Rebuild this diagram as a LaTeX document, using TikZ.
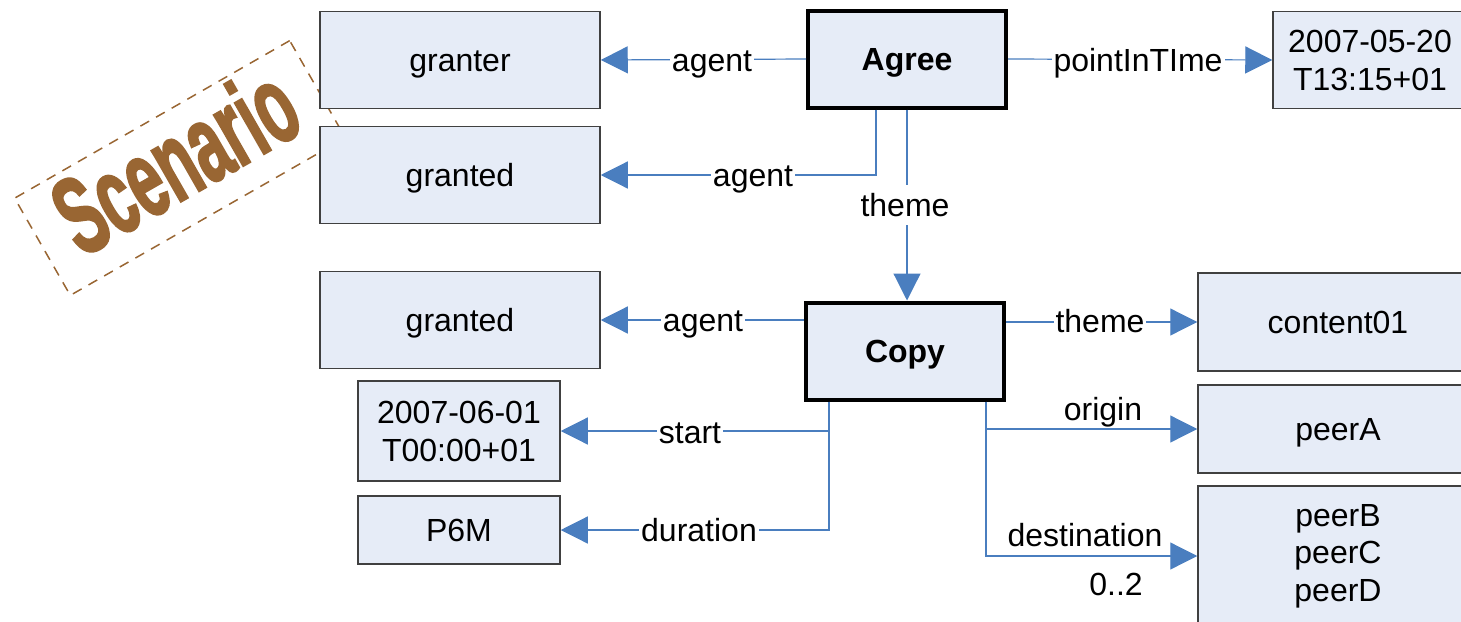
\documentclass[tikz,border=0pt]{standalone}
\usepackage{fontspec}
\setmainfont{Liberation Sans}
\newfontfamily\stampfont[FakeBold=2.5]{Liberation Sans Bold}
\usetikzlibrary{arrows.meta}
\definecolor{boxfill}{HTML}{E6ECF7}
\definecolor{linkblue}{HTML}{4A7EBF}
\definecolor{stampbrown}{HTML}{996633}
\tikzset{
  oneline/.style={text height=14.5pt, text depth=3.4pt},
  multibox/.style={draw=black!75, line width=0.75pt, fill=boxfill, minimum width=140pt,
    minimum height=48.5pt, align=center, font=\fontsize{16}{19}\selectfont, inner sep=0pt},
  box/.style={multibox, oneline},
  eventbox/.style={box, draw=black, line width=2pt, minimum width=99pt,
    font=\fontsize{16}{19}\selectfont\bfseries},
  link/.style={draw=linkblue, line width=0.6pt, -{Triangle[length=13.5pt,width=13.5pt]}},
  lbl/.style={fill=white, inner sep=1pt, oneline, font=\fontsize{16}{19}\selectfont},
}
\begin{document}
\begin{tikzpicture}[x=0.5pt, y=-0.5pt]
  \clip (0,0) rectangle (1461,621);

  % stamp
  \node[draw=stampbrown, dashed, line width=0.75pt, dash pattern=on 5pt off 4pt,
    minimum width=158.5pt, minimum height=56pt, rotate=29.8, text=stampbrown]
    (stamp) at (180,168)
    {\raisebox{5pt}[\height][\depth]{\scalebox{0.56}[1]{\fontsize{55}{55}\stampfont Scenario}}};

  % events
  \node[eventbox] (agree) at (907,59) {Agree};
  \node[eventbox] (copy) at (905,351) {Copy};

  % roles
  \node[box] (granter) at (460,60) {granter};
  \node[box] (granted1) at (460,175) {granted};
  \node[multibox, minimum width=97pt, text width=97pt] (when) at (1370,60) {2007-05-20\\T13:15+01};
  \node[box] (granted2) at (460,320) {granted};
  \node[multibox, minimum width=101pt, minimum height=50pt] (start) at (459,431) {2007-06-01\\T00:00+01};
  \node[box, minimum width=101pt, minimum height=34pt] (dur) at (459,530) {P6M};
  \node[box, minimum width=140pt, minimum height=49pt] (content) at (1338,322) {content01};
  \node[box, minimum width=140pt, minimum height=44pt] (peerA) at (1338,429) {peerA};
  \node[multibox, minimum width=140pt, minimum height=70pt, font=\fontsize{16}{18.8}\selectfont]
    (peers) at (1338,556) {peerB\\peerC\\peerD};

  % connectors
  \draw[link] (agree.west) -- (granter.east);
  \draw[link] ([xshift=-15.5pt]agree.south) |- (granted1.east);
  \draw[link] (agree.south) -- (agree.south |- copy.north);
  \draw[link] (agree.east) -- (when.west);
  \draw[link] (copy.west |- granted2.east) -- (granted2.east);
  \draw[link] (copy.east |- content.west) -- (content.west);

  \coordinate (cl) at ([xshift=-38pt]copy.south);
  \coordinate (cr) at ([xshift=40.5pt]copy.south);
  \draw[link] (cl) |- (start.east);
  \draw[link] (cl) |- (dur.east);
  \draw[link] (cr) |- (peerA.west);
  \draw[link] (cr) |- (peers.west);

  % labels
  \node[lbl] (l1) at (712,60) {agent};
  \node[lbl] (l2) at (753,175) {agent};
  \node[lbl] (l3) at (905,205) {theme};
  \node[lbl] (l4) at (1138,60) {pointInTIme};
  \node[lbl] (l5) at (703,320) {agent};
  \node[lbl] (l6) at (1100,321) {theme};
  \node[lbl] (l7) at (690,432) {start};
  \node[lbl] (l8) at (699,530) {duration};
  \node[lbl, fill=none] (l9) at (1103,409) {origin};
  \node[lbl, fill=none] (l10) at (1085,535) {destination};
  \node[lbl, fill=none] (l11) at (1116,584) {0..2};
\end{tikzpicture}
\end{document}
